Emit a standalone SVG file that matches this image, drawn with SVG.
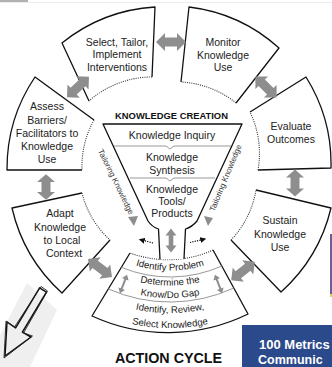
<svg xmlns="http://www.w3.org/2000/svg" width="332" height="367" viewBox="0 0 332 367">
<style>
text{font-family:"Liberation Sans",Arial,sans-serif;fill:#222}
.lbl{font-size:10.5px;text-anchor:middle}
.arc{font-size:9.6px;text-anchor:middle}
.seg{fill:#fff;stroke:#111;stroke-width:1.3;stroke-linejoin:round}
.dot{fill:none;stroke:#333;stroke-width:1.1;stroke-dasharray:1 1.2}
.ga{fill:#8e8e8e}
.sep{fill:none;stroke:#999;stroke-width:1}
.tk{font-size:8px;text-anchor:middle;fill:#333}
</style>
<defs>
<path id="dbl" d="M-15,0 L-6,-9 L-6,-4.5 L6,-4.5 L6,-9 L15,0 L6,9 L6,4.5 L-6,4.5 L-6,9 Z"/>
<path id="dbl2" d="M-12,0 L-5,-5.5 L-5,-2.3 L5,-2.3 L5,-5.5 L12,0 L5,5.5 L5,2.3 L-5,2.3 L-5,5.5 Z"/>
<path id="dbl3" d="M-10,0 L-5,-3.5 L-5,-1 L5,-1 L5,-3.5 L10,0 L5,3.5 L5,1 L-5,1 L-5,3.5 Z"/>
<marker id="ah" viewBox="0 0 10 10" refX="8" refY="5" markerWidth="5" markerHeight="5" orient="auto"><path d="M0,0 L10,5 L0,10 Z" fill="#111"/></marker>
<path id="a1" d="M92.5,242.3 A120.5,120.5 0 0 0 247.5,242.3"/>
<path id="a2" d="M82.9,253.8 A135.5,135.5 0 0 0 257.1,253.8"/>
<path id="a3" d="M74.9,263.4 A148,148 0 0 0 265.1,263.4"/>
<path id="a4" d="M65.2,274.9 A163,163 0 0 0 274.8,274.9"/>
<path id="a5" d="M55.6,286.4 A178,178 0 0 0 284.4,286.4"/>
</defs>
<rect width="332" height="367" fill="#fff"/>
<line x1="0" y1="2.5" x2="332" y2="2.5" stroke="#ececec" stroke-width="1"/>
<rect x="0" y="0" width="28" height="2" fill="#b0b0b0"/>

<g id="select">
<path class="seg" d="M89,101 L62,43 A164,164 0 0 1 155,7 L152,77"/>
<path class="dot" d="M152,77 A95,95 0 0 0 89,101"/>
<text class="lbl"><tspan x="117" y="45.5">Select, Tailor,</tspan><tspan x="117" y="58">Implement</tspan><tspan x="117" y="70.5">Interventions</tspan></text>
</g>
<g id="monitor">
<path class="seg" d="M181,82 L189,7 A164,164 0 0 1 279,48 L236,103"/>
<path class="dot" d="M236,103 A95,95 0 0 0 181,82"/>
<text class="lbl"><tspan x="223" y="46">Monitor</tspan><tspan x="223" y="58.5">Knowledge</tspan><tspan x="223" y="71">Use</tspan></text>
</g>
<g id="evaluate">
<path class="seg" d="M250,112 L306,77 A164,164 0 0 1 331,168 L258,170"/>
<path class="dot" d="M258,170 A95,95 0 0 0 250,112"/>
<text class="lbl"><tspan x="291" y="130">Evaluate</tspan><tspan x="291" y="142.5">Outcomes</tspan></text>
</g>
<g id="sustain">
<path class="seg" d="M256,190 L331,208 A164,164 0 0 1 281,292 L231,240"/>
<path class="dot" d="M231,240 A95,95 0 0 0 256,190"/>
<text class="lbl"><tspan x="280" y="224">Sustain</tspan><tspan x="280" y="237.5">Knowledge</tspan><tspan x="280" y="251">Use</tspan></text>
</g>
<g id="adapt">
<path class="seg" d="M110,240 L62,293 A164,164 0 0 1 12,208 L82,193"/>
<path class="dot" d="M82,193 A95,95 0 0 0 110,240"/>
<text class="lbl"><tspan x="60" y="217">Adapt</tspan><tspan x="60" y="231">Knowledge</tspan><tspan x="62" y="244">to Local</tspan><tspan x="64" y="257">Context</tspan></text>
</g>
<g id="assess">
<path class="seg" d="M82,170 L7,170 A164,164 0 0 1 35,77 L94,120"/>
<path class="dot" d="M94,120 A95,95 0 0 0 82,170"/>
<text class="lbl"><tspan x="47" y="110">Assess</tspan><tspan x="47" y="123.5">Barriers/</tspan><tspan x="47" y="137">Facilitators to</tspan><tspan x="47" y="150">Knowledge</tspan><tspan x="47" y="163">Use</tspan></text>
</g>

<g id="action-phases">
<path class="seg" d="M130,253 L92,316 A182,182 0 0 0 248,314 L213,250"/>
<path class="dot" d="M213,250 A110,110 0 0 1 130,253"/>
<path class="sep" d="M121.4,267.3 A127,127 0 0 0 221.8,266"/>
<path class="sep" d="M108.3,288.9 A152,152 0 0 0 233.8,288"/>
<text class="arc"><textPath href="#a1" startOffset="50%">Identify Problem</textPath></text>
<text class="arc"><textPath href="#a2" startOffset="50%">Determine the</textPath><textPath href="#a3" startOffset="50%">Know/Do Gap</textPath></text>
<text class="arc"><textPath href="#a4" startOffset="50%">Identify, Review,</textPath><textPath href="#a5" startOffset="50%">Select Knowledge</textPath></text>
</g>

<g id="knowledge-creation">
<text x="171.5" y="119" style="font-size:9.4px;font-weight:bold;text-anchor:middle;fill:#111">KNOWLEDGE CREATION</text>
<path d="M160,259.5 L158.5,229 Q152,227 148,221 L103,124 L242,124 L197,221 Q192,227 185.5,229 L184,259" fill="#fff" stroke="#111" stroke-width="1.3" stroke-linejoin="round"/>
<path class="sep" d="M114,146 L166,146 L170,149 L174,146 L231,146"/>
<path class="sep" d="M130,178 L166,178 L170,181 L174,178 L215,178"/>
<text class="lbl"><tspan x="172" y="138.5">Knowledge Inquiry</tspan></text>
<text class="lbl"><tspan x="172" y="161">Knowledge</tspan><tspan x="172" y="173.5">Synthesis</tspan></text>
<text class="lbl"><tspan x="172" y="193">Knowledge</tspan><tspan x="172" y="205">Tools/</tspan><tspan x="172" y="217">Products</tspan></text>
<text class="tk" transform="translate(113.5,183) rotate(64)">Tailoring Knowledge</text>
<text class="tk" transform="translate(228,179) rotate(-67.5)">Tailoring Knowledge</text>
<polygon points="128,217 138,216 134,226" fill="#8e8e8e"/>
<polygon points="204,216 213,218 208,226" fill="#8e8e8e"/>
</g>

<g id="connectors">
<use href="#dbl" class="ga" transform="translate(171,42)"/>
<use href="#dbl" class="ga" transform="translate(78,87) rotate(-43)"/>
<use href="#dbl" class="ga" transform="translate(266,87) rotate(45)"/>
<use href="#dbl" class="ga" transform="translate(295,183) rotate(90) scale(0.9,1)"/>
<use href="#dbl" class="ga" transform="translate(243,271) rotate(-38)"/>
<use href="#dbl" class="ga" transform="translate(100,268) rotate(37)"/>
<use href="#dbl" class="ga" transform="translate(46,187) rotate(90) scale(0.85,1)"/>
<use href="#dbl2" class="ga" transform="translate(171,240.5) rotate(90)"/>
<use href="#dbl3" class="ga" transform="translate(123.5,284) rotate(111)"/>
<use href="#dbl3" class="ga" transform="translate(218.5,284) rotate(69)"/>
<path d="M153,243 L140,239.5" fill="none" stroke="#111" stroke-width="1.2" stroke-dasharray="1.2 1.2" marker-end="url(#ah)"/>
<path d="M190,242.5 L205,239" fill="none" stroke="#111" stroke-width="1.2" stroke-dasharray="1.2 1.2" marker-end="url(#ah)"/>
</g>

<text x="168.5" y="363" style="font-size:14.3px;font-weight:900;text-anchor:middle;fill:#111">ACTION CYCLE</text>

<g id="sketch-arrow">
<polygon points="27,283 57,310 30,367 0,367 0,335" fill="#efefef"/>
<path d="M39.6,287.9 L46.4,292.1 L22.4,332.1 L31,337 L5,356 L7,322 L15.6,327.9 Z" fill="none" stroke="#111" stroke-width="1.5" stroke-linejoin="round"/>
<path d="M41,286.5 L47.5,291 L23.5,333 L32.5,336 L4,358 L6,321 L14.5,327 Z" fill="none" stroke="#222" stroke-width="0.9"/>
</g>

<line x1="331" y1="234" x2="331" y2="294" stroke="#3a2a78" stroke-width="1.5"/>
<line x1="331" y1="294" x2="331" y2="297" stroke="#d8c030" stroke-width="1.5"/>

<g id="metrics-box">
<rect x="242" y="325" width="90" height="42" fill="#2b4a8c"/>
<text x="259" y="349" style="font-size:13px;font-weight:bold;fill:#fff">100 Metrics</text>
<text x="258" y="363.5" style="font-size:12.5px;font-weight:bold;fill:#fff">Communic</text>
</g>
</svg>
